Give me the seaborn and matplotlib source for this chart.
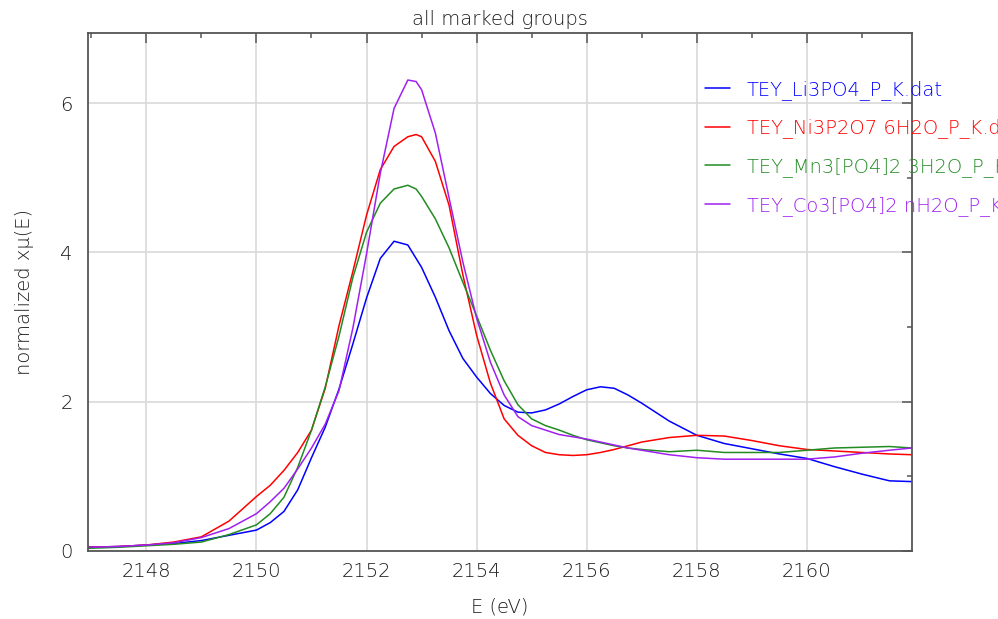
import matplotlib
matplotlib.use("Agg")
import matplotlib.pyplot as plt
from matplotlib.ticker import MultipleLocator
import seaborn as sns
import pandas as pd

# ---- data ----
energy = [2146.9, 2147.5, 2148.0, 2148.5, 2149.0, 2149.5, 2150.0, 2150.25, 2150.5,
          2150.75, 2151.0, 2151.25, 2151.5, 2151.75, 2152.0, 2152.25, 2152.5,
          2152.75, 2152.9, 2153.0, 2153.25, 2153.5, 2153.75, 2154.0, 2154.25,
          2154.5, 2154.75, 2155.0, 2155.25, 2155.5, 2155.75, 2156.0, 2156.25,
          2156.5, 2156.75, 2157.0, 2157.5, 2158.0, 2158.5, 2159.0, 2159.5,
          2160.0, 2160.5, 2161.0, 2161.5, 2161.9]

li3po4 = [0.05, 0.06, 0.08, 0.10, 0.14, 0.21, 0.28, 0.38, 0.53,
          0.82, 1.25, 1.66, 2.17, 2.77, 3.39, 3.92, 4.15,
          4.10, 3.92, 3.80, 3.40, 2.95, 2.58, 2.33, 2.11,
          1.95, 1.86, 1.85, 1.89, 1.97, 2.07, 2.16, 2.20,
          2.18, 2.09, 1.98, 1.74, 1.55, 1.44, 1.37, 1.30,
          1.24, 1.13, 1.03, 0.94, 0.93]

ni3p2o7 = [0.05, 0.06, 0.08, 0.12, 0.19, 0.40, 0.73, 0.88, 1.08,
           1.32, 1.62, 2.18, 3.02, 3.74, 4.50, 5.11, 5.42,
           5.55, 5.58, 5.55, 5.22, 4.63, 3.70, 2.89, 2.25,
           1.77, 1.55, 1.41, 1.32, 1.29, 1.28, 1.29, 1.32,
           1.36, 1.41, 1.46, 1.52, 1.55, 1.54, 1.48, 1.41,
           1.36, 1.34, 1.32, 1.30, 1.29]

mn3po4 = [0.035, 0.05, 0.07, 0.09, 0.12, 0.22, 0.35, 0.50, 0.72,
          1.12, 1.62, 2.20, 2.88, 3.66, 4.27, 4.66, 4.85,
          4.90, 4.85, 4.75, 4.45, 4.06, 3.60, 3.15, 2.69,
          2.28, 1.96, 1.77, 1.68, 1.62, 1.55, 1.49, 1.45,
          1.41, 1.38, 1.36, 1.33, 1.35, 1.32, 1.32, 1.32,
          1.35, 1.38, 1.39, 1.40, 1.38]

co3po4 = [0.05, 0.06, 0.08, 0.11, 0.18, 0.30, 0.50, 0.66, 0.84,
          1.10, 1.38, 1.70, 2.15, 2.98, 3.98, 5.06, 5.93,
          6.31, 6.29, 6.18, 5.60, 4.73, 3.87, 3.12, 2.53,
          2.09, 1.80, 1.68, 1.62, 1.56, 1.53, 1.50, 1.46,
          1.42, 1.38, 1.35, 1.29, 1.25, 1.23, 1.23, 1.23,
          1.23, 1.26, 1.31, 1.35, 1.38]

labels = ["TEY_Li3PO4_P_K.dat",
          "TEY_Ni3P2O7 6H2O_P_K.dat",
          "TEY_Mn3[PO4]2 3H2O_P_K.dat",
          "TEY_Co3[PO4]2 nH2O_P_K.dat"]
colors = ["#0000ff", "#ff0000", "#228b22", "#a020f0"]

title = "all marked groups"
xlabel = "E (eV)"
ylabel = "normalized xμ(E)"

# ---- build long-form table ----
frames = []
for lab, vals in zip(labels, [li3po4, ni3p2o7, mn3po4, co3po4]):
    frames.append(pd.DataFrame({"E": energy, "mu": vals, "group": lab}))
df = pd.concat(frames, ignore_index=True)

sns.set_style("white")
plt.rcParams["font.family"] = ["DejaVu Sans"]
plt.rcParams["font.weight"] = "light"
txt = "#1a1a1a"

fig = plt.figure(figsize=(9.98, 6.19), dpi=100)
ax = fig.add_axes([88 / 998, 1 - 551 / 619, (911.5 - 88) / 998, (551 - 33) / 619])

sns.lineplot(data=df, x="E", y="mu", hue="group", hue_order=labels,
             palette=colors, sort=False, estimator=None, legend=False,
             linewidth=1.1, ax=ax)

ax.set_xlim(2146.94, 2161.9)
ax.set_ylim(0, 6.94)
ax.xaxis.set_major_locator(MultipleLocator(2))
ax.xaxis.set_minor_locator(MultipleLocator(1))
ax.yaxis.set_major_locator(MultipleLocator(2))
ax.yaxis.set_minor_locator(MultipleLocator(1))

ax.grid(True, which="major", color="#d9d9d9", linewidth=1.2)
ax.set_axisbelow(True)

for s in ax.spines.values():
    s.set_color("#555555")
    s.set_linewidth(1.3)

ax.tick_params(which="both", direction="in", top=True, right=True,
               colors="#555555", labelcolor=txt, labelsize=14)
ax.tick_params(which="major", length=7, width=1.1)
ax.tick_params(which="minor", length=3.5, width=1.1)
ax.tick_params(axis="x", which="major", pad=8)
ax.tick_params(axis="y", which="major", pad=11)

ax.set_xlabel(xlabel, fontsize=14, color=txt, labelpad=12, fontweight="light")
ax.set_ylabel(ylabel, fontsize=14, color=txt, labelpad=19, fontweight="light")
ax.set_title(title, fontsize=14, color=txt, pad=6, fontweight="light")

handles = ax.get_lines()[:4]
leg = fig.legend(handles, labels, loc="upper left",
                 bbox_to_anchor=(705 / 998, 1 - 80 / 619),
                 bbox_transform=fig.transFigure, frameon=False,
                 fontsize=14, handlelength=1.3, handletextpad=0.85,
                 labelspacing=0.96, borderpad=0, borderaxespad=0,
                 labelcolor="linecolor")

fig.savefig("out.png", dpi=100)
